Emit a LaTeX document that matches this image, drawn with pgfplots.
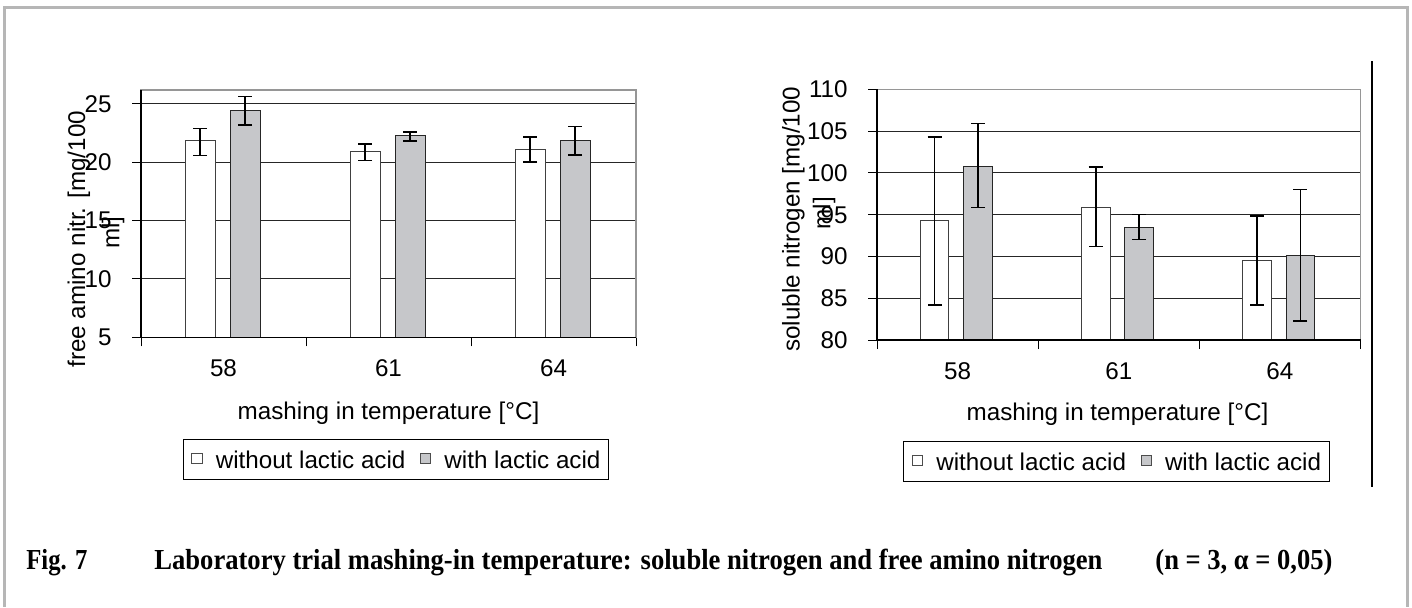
\documentclass[border=0pt]{standalone}
\usepackage{fontspec}
\setmainfont{Liberation Sans}
\newfontfamily\capfont{Liberation Serif}
\usepackage{graphicx}
\usepackage{pgfplots}
\pgfplotsset{compat=1.18}
\usepackage{pgfplotstable}
\definecolor{barg}{RGB}{198,199,202}
\definecolor{frameg}{RGB}{182,182,182}
\definecolor{boxg}{RGB}{150,150,150}

% left chart: free amino nitrogen
\pgfplotstableread{
x y ep em
-0.142 21.83 1.06 1.25
0.858 20.92 0.63 0.77
1.858 21.09 1.06 1.09
}\famwo
\pgfplotstableread{
x y ep em
0.131 24.42 1.21 1.22
1.131 22.26 0.31 0.43
2.131 21.83 1.23 1.23
}\famwi
% right chart: soluble nitrogen
\pgfplotstableread{
x y ep em
-0.143 94.36 9.97 10.17
0.857 95.88 4.86 4.71
1.857 89.54 5.30 5.35
}\snwo
\pgfplotstableread{
x y ep em
0.127 100.74 5.15 4.86
1.127 93.49 1.55 1.44
2.127 90.09 7.94 7.80
}\snwi

\pgfplotsset{
  myax/.style={
    scale only axis, clip mode=individual,
    xmin=-0.5, xmax=2.5,
    xtick={-0.5,0.5,1.5,2.5}, x tick label as interval,
    xticklabels={58,61,64},
    ymajorgrids, major grid style={black!85, line width=0.5pt},
    xtick pos=bottom, ytick pos=left,
    tick align=outside,
    tick style={black, line width=0.5pt},
    major tick length=4.5pt,
    axis line style={draw=boxg, line width=0.7pt},
    tick label style={font=\fontsize{12.1}{14}\selectfont},
    /pgf/number format/assume math mode=true,
    yticklabel style={anchor=east, inner sep=0pt, xshift=-10pt},
    xticklabel style={anchor=north, inner sep=0pt, yshift=-6.5pt},
    legend columns=2,
    legend cell align=left,
    legend style={draw=black, line width=0.5pt, anchor=north,
      font=\fontsize{12.1}{14}\selectfont,
      inner xsep=4.1pt, inner ysep=5.75pt,
      nodes={inner sep=0pt, text height=8.7pt, text depth=0pt},
      /tikz/every odd column/.append style={column sep=6.6pt},
      /tikz/every even column/.append style={column sep=7.3pt}},
    error bars/y dir=both, error bars/y explicit,
    error bars/error bar style={black, line width=0.8pt},
    error bars/error mark options={rotate=90, black, line width=0.8pt, mark size=3.5pt},
  },
  wo/.style={ybar, bar shift=0, draw=black!75, line width=0.5pt, fill=white,
    legend image code/.code={\draw[draw=black!70, line width=0.4pt, fill=white] (0pt,-2pt) rectangle (5.2pt,3.2pt);}},
  wi/.style={ybar, bar shift=0, draw=black!85, line width=0.5pt, fill=barg,
    legend image code/.code={\draw[draw=black!70, line width=0.4pt, fill=barg] (0pt,-2pt) rectangle (5.2pt,3.2pt);}},
}

\begin{document}
\begin{tikzpicture}
\useasboundingbox (0,0) rectangle (706pt,303.5pt);
% outer frame
\draw[frameg, line width=1.5pt] (2pt,0pt) -- (2pt,300pt) -- (703.5pt,300pt) -- (703.5pt,0pt);
% vertical rule at right
\draw[black, line width=0.8pt] (686pt,273pt) -- (686pt,60pt);

% ---------- left chart ----------
\begin{axis}[myax, at={(70.5pt,134.85pt)}, anchor=south west,
  width=247.5pt, height=123.65pt,
  ymin=5, ymax=26.17, ytick={5,10,15,20,25},
  legend style={at={(axis description cs:0.515,-0.411)}}]
\addplot[wo, bar width=0.182] table[x=x, y=y, y error plus=ep, y error minus=em]{\famwo};
\addlegendentry{without lactic acid}
\addplot[wi, bar width=0.182] table[x=x, y=y, y error plus=ep, y error minus=em]{\famwi};
\addlegendentry{with lactic acid}
\draw[black, line width=0.7pt] (rel axis cs:0,1) -- (rel axis cs:0,0) -- (rel axis cs:1,0);
\end{axis}

% ---------- right chart ----------
\begin{axis}[myax, at={(438.5pt,133.5pt)}, anchor=south west,
  width=241.75pt, height=125.33pt,
  ymin=80, ymax=110, ytick={80,85,...,110},
  legend style={at={(axis description cs:0.4953,-0.4029)}}]
\addplot[wo, bar width=0.178] table[x=x, y=y, y error plus=ep, y error minus=em]{\snwo};
\addlegendentry{without lactic acid}
\addplot[wi, bar width=0.178] table[x=x, y=y, y error plus=ep, y error minus=em]{\snwi};
\addlegendentry{with lactic acid}
\draw[black, line width=0.7pt] (rel axis cs:0,1) -- (rel axis cs:0,0) -- (rel axis cs:1,0);
\end{axis}

% axis titles
\begin{scope}[every node/.style={inner sep=0pt, font=\fontsize{12.1}{14}\selectfont}]
\node[anchor=base, rotate=90] at (42.6pt,183.9pt) {free amino nitr. [mg/100};
\node[anchor=base, rotate=90] at (59.7pt,187.3pt) {ml]};
\node[anchor=base, rotate=90] at (399.85pt,193.9pt) {soluble nitrogen [mg/100};
\node[anchor=base, rotate=90] at (415.15pt,196.85pt) {ml]};
\node[anchor=base] at (194.25pt,93.85pt) {mashing in temperature [°C]};
\node[anchor=base] at (558.75pt,93.5pt) {mashing in temperature [°C]};
\end{scope}

% caption
\begin{scope}[every node/.style={inner sep=0pt, anchor=base west, font=\capfont\bfseries\fontsize{14.5}{17}\selectfont}]
\node at (13pt,19pt) {\resizebox{30.5pt}{\height}{Fig. 7}};
\node at (77pt,19pt) {\resizebox{474pt}{\height}{Laboratory trial mashing-in temperature: soluble nitrogen and free amino nitrogen}};
\node at (577.5pt,19pt) {\resizebox{88.5pt}{\height}{(n = 3, α = 0,05)}};
\end{scope}
\end{tikzpicture}
\end{document}
